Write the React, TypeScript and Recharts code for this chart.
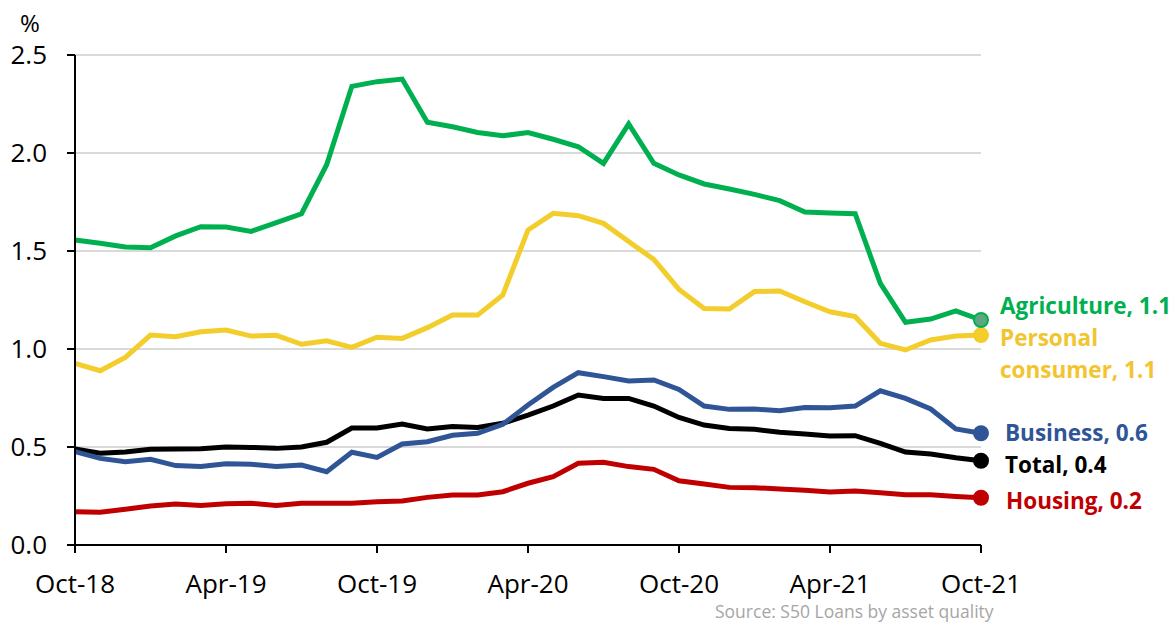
import React from "react";
import { LineChart, Line, XAxis, YAxis, CartesianGrid } from "recharts";

const months = ["Oct-18","Nov-18","Dec-18","Jan-19","Feb-19","Mar-19","Apr-19","May-19","Jun-19","Jul-19","Aug-19","Sep-19","Oct-19","Nov-19","Dec-19","Jan-20","Feb-20","Mar-20","Apr-20","May-20","Jun-20","Jul-20","Aug-20","Sep-20","Oct-20","Nov-20","Dec-20","Jan-21","Feb-21","Mar-21","Apr-21","May-21","Jun-21","Jul-21","Aug-21","Sep-21","Oct-21"];

const agriculture = [1.556,1.54,1.52,1.517,1.577,1.624,1.622,1.60,1.645,1.69,1.94,2.34,2.364,2.377,2.157,2.134,2.105,2.088,2.104,2.07,2.032,1.947,2.148,1.947,1.888,1.842,1.816,1.789,1.757,1.699,1.694,1.69,1.335,1.136,1.153,1.195,1.148];
const personal = [0.927,0.889,0.957,1.071,1.063,1.088,1.097,1.066,1.07,1.024,1.042,1.008,1.06,1.054,1.109,1.173,1.173,1.276,1.607,1.692,1.68,1.641,1.548,1.457,1.304,1.207,1.204,1.293,1.296,1.241,1.19,1.165,1.029,0.995,1.046,1.066,1.071];
const business = [0.476,0.442,0.425,0.437,0.405,0.401,0.415,0.412,0.40,0.408,0.374,0.473,0.447,0.515,0.527,0.56,0.57,0.616,0.714,0.804,0.879,0.859,0.837,0.842,0.794,0.709,0.692,0.694,0.685,0.702,0.70,0.709,0.787,0.748,0.694,0.592,0.57];
const total = [0.49,0.468,0.474,0.488,0.49,0.491,0.5,0.498,0.493,0.5,0.524,0.597,0.597,0.617,0.592,0.604,0.60,0.621,0.663,0.709,0.765,0.748,0.748,0.709,0.651,0.612,0.594,0.59,0.575,0.566,0.556,0.558,0.519,0.474,0.464,0.445,0.43];
const housing = [0.17,0.167,0.182,0.199,0.209,0.202,0.211,0.213,0.201,0.213,0.213,0.213,0.221,0.224,0.243,0.255,0.255,0.272,0.315,0.349,0.417,0.422,0.40,0.386,0.328,0.311,0.294,0.292,0.286,0.279,0.27,0.276,0.267,0.257,0.256,0.248,0.241];

const yTicks = [0, 0.5, 1, 1.5, 2, 2.5];

const agricultureLabel = ["Agriculture, 1.1"];
const personalLabel = ["Personal", "consumer, 1.1"];
const businessLabel = ["Business, 0.6"];
const totalLabel = ["Total, 0.4"];
const housingLabel = ["Housing, 0.2"];

const data = months.map((m, i) => ({
  month: m,
  agriculture: agriculture[i],
  personal: personal[i],
  business: business[i],
  total: total[i],
  housing: housing[i],
}));

const FONT = "'Open Sans', 'DejaVu Sans', sans-serif";
const lastIndex = months.length - 1;

type SeriesCfg = {
  key: string;
  color: string;
  textColor: string;
  dotFill: string;
  lines: string[];
  dx: number;
  dy: number;
};

const series: SeriesCfg[] = [
  { key: "housing", color: "#c00000", textColor: "#c00000", dotFill: "#c00000", lines: housingLabel, dx: 25, dy: 2 },
  { key: "total", color: "#000000", textColor: "#000000", dotFill: "#000000", lines: totalLabel, dx: 24, dy: 3 },
  { key: "business", color: "#2f5597", textColor: "#2f5597", dotFill: "#2f5597", lines: businessLabel, dx: 24, dy: -1 },
  { key: "personal", color: "#f2cd2c", textColor: "#f2c52e", dotFill: "#f2cd2c", lines: personalLabel, dx: 19, dy: 2 },
  { key: "agriculture", color: "#00b050", textColor: "#00b050", dotFill: "#5ea582", lines: agricultureLabel, dx: 19, dy: -15 },
];

function makeDot(s: SeriesCfg) {
  return (props: any) => {
    const { cx, cy, index } = props;
    if (index !== lastIndex || cx == null || cy == null) return <g key={`d-${s.key}-${index}`} />;
    return (
      <circle
        key={`d-${s.key}-${index}`}
        cx={cx}
        cy={cy}
        r={7}
        fill={s.dotFill}
        stroke={s.color}
        strokeWidth={2}
      />
    );
  };
}

function makeLabel(s: SeriesCfg) {
  return (props: any) => {
    const { x, y, index } = props;
    if (index !== lastIndex || x == null || y == null) return <g key={`l-${s.key}-${index}`} />;
    return (
      <text
        key={`l-${s.key}-${index}`}
        x={x + s.dx}
        y={y + s.dy}
        fill={s.textColor}
        fontFamily={FONT}
        fontWeight={700}
        fontSize={22.5}
        dominantBaseline="central"
      >
        {s.lines.map((t, j) => (
          <tspan key={j} x={x + s.dx} dy={j === 0 ? 0 : 32}>
            {t}
          </tspan>
        ))}
      </text>
    );
  };
}

export default function App() {
  return (
    <div style={{ position: "absolute", left: 0, top: 0, width: 1174, height: 622, background: "#fff", overflow: "hidden" }}>
      <LineChart
        width={1174}
        height={622}
        data={data}
        margin={{ top: 55, right: 193, bottom: 0, left: 0 }}
      >
        <CartesianGrid horizontal={true} vertical={false} stroke="#d9d9d9" strokeWidth={2} />
        <XAxis
          dataKey="month"
          interval={5}
          height={77}
          axisLine={{ stroke: "#000", strokeWidth: 2 }}
          tickLine={{ stroke: "#000", strokeWidth: 2 }}
          tickSize={8}
          tickMargin={22}
          tick={{ fill: "#000", fontSize: 26, fontFamily: FONT }}
        />
        <YAxis
          width={75}
          domain={[0, 2.5]}
          ticks={yTicks}
          type="number"
          axisLine={{ stroke: "#000", strokeWidth: 2 }}
          tickLine={{ stroke: "#000", strokeWidth: 2 }}
          tickSize={8}
          tickMargin={20}
          tickFormatter={(v: number) => v.toFixed(1)}
          tick={{ fill: "#000", fontSize: 26, fontFamily: FONT }}
        />
        {series.map((s) => (
          <Line
            key={s.key}
            type="linear"
            dataKey={s.key}
            stroke={s.color}
            strokeWidth={5}
            dot={makeDot(s)}
            activeDot={false}
            label={makeLabel(s)}
            isAnimationActive={false}
          />
        ))}
      </LineChart>
      <div style={{ position: "absolute", left: 20, top: 11, fontSize: 24, fontFamily: FONT, color: "#000", lineHeight: 1 }}>%</div>
      <div style={{ position: "absolute", left: 715, top: 599, fontSize: 17.5, fontFamily: FONT, color: "#a6a6a6", whiteSpace: "nowrap", lineHeight: "normal" }}>
        Source: S50 Loans by asset quality
      </div>
    </div>
  );
}
